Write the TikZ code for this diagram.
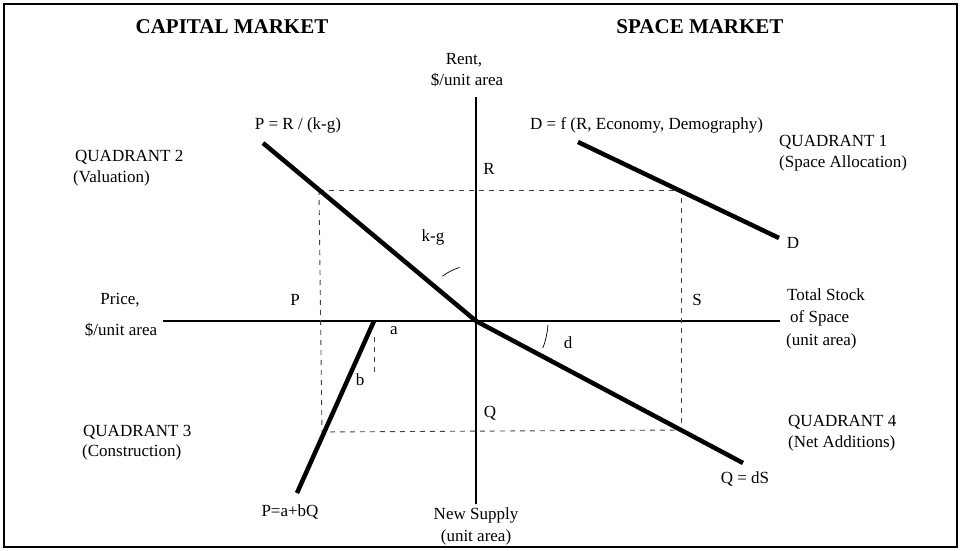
\documentclass[tikz,border=0pt]{standalone}
\usepackage{fontspec}
\setmainfont{Liberation Serif}
\begin{document}
\begin{tikzpicture}[x=1pt,y=-1pt,
  lbl/.style={inner sep=0pt,font=\fontsize{17}{20}\selectfont},
  ttl/.style={inner sep=0pt,font=\fontsize{21}{24}\selectfont\bfseries},
  axis/.style={line width=2pt,black},
  curve/.style={line width=4.5pt,black},
  guide/.style={line width=0.9pt,black!75,dash pattern=on 5pt off 5pt},
  anglemark/.style={line width=0.7pt,black}]
\useasboundingbox (0,0) rectangle (961,551);
\draw[line width=1.5pt] (4,4) rectangle (957,547);
% axes
\coordinate (O) at (476,321);
\coordinate (Vtop) at (476,97);
\coordinate (Vbot) at (476,504);
\coordinate (Hl) at (163,321);
\coordinate (Hr) at (780,321);
\draw[axis] (Vtop) -- (Vbot);
\draw[axis] (Hl) -- (Hr);
% curves
\coordinate (q2s) at (263,143);
\coordinate (q1s) at (578,142);
\coordinate (q1e) at (779,238);
\coordinate (q4e) at (743,463);
\coordinate (q3s) at (374,321);
\coordinate (q3e) at (297,493);
% dashed rectangle corners
\coordinate (c2) at (319,190);
\coordinate (c1) at (681,190);
\coordinate (c4) at (681,430);
\coordinate (c3) at (322,432);
\draw[guide] (c2) -- (c1) -- (c4);
\draw[guide] (c2) -- (c3) -- (c4);
\coordinate (bt) at (374,337);
\coordinate (bb) at (374,372);
\draw[guide] (bt) -- (bb);
\draw[curve] (q2s) -- (O);
\draw[curve] (q1s) -- (q1e);
\draw[curve] (O) -- (q4e);
\draw[curve] (q3s) -- (q3e);
% angle marks (y axis points down, so angles are mirrored)
\draw[anglemark] ([shift={(-127:56)}]O) arc[start angle=-127,end angle=-107,radius=56];
\draw[anglemark] ([shift={(3:72)}]O) arc[start angle=3,end angle=22,radius=72];
% titles
\node[ttl] (tcap) at (232,27) {CAPITAL MARKET};
\node[ttl] (tspa) at (700,27) {SPACE MARKET};
% axis labels
\node[lbl] (rent1) at (464,60) {Rent,};
\node[lbl] (rent2) at (467,80) {\$/unit area};
\node[lbl] (pr1) at (120,300) {Price,};
\node[lbl] (pr2) at (121,330) {\$/unit area};
\node[lbl,anchor=west] (ts1) at (787,295) {Total Stock};
\node[lbl,anchor=west] (ts2) at (790,318) {of Space};
\node[lbl,anchor=west] (ts3) at (786,341) {(unit area)};
\node[lbl] (ns1) at (476,515) {New Supply};
\node[lbl] (ns2) at (476,537) {(unit area)};
% quadrant labels
\node[lbl,anchor=west] (q2a) at (75,157) {QUADRANT 2};
\node[lbl,anchor=west] (q2b) at (73,178) {(Valuation)};
\node[lbl,anchor=west] (q1a) at (779,142) {QUADRANT 1};
\node[lbl,anchor=west] (q1b) at (779,163) {(Space Allocation)};
\node[lbl,anchor=west] (q3a) at (83,432) {QUADRANT 3};
\node[lbl,anchor=west] (q3b) at (82,452) {(Construction)};
\node[lbl,anchor=west] (q4a) at (788,422) {QUADRANT 4};
\node[lbl,anchor=west] (q4b) at (788,443) {(Net Additions)};
% equations
\node[lbl] (eqP) at (298,125) {P = R / (k-g)};
\node[lbl,anchor=west] (eqD) at (530,125) {D = f (R, Economy, Demography)};
\node[lbl] (eqQ) at (745,479) {Q = dS};
\node[lbl] (eqC) at (290,512) {P=a+bQ};
% point labels
\node[lbl] (lR) at (489,169) {R};
\node[lbl] (lP) at (295,300) {P};
\node[lbl] (lS) at (697,300) {S};
\node[lbl] (lQ) at (490,413) {Q};
\node[lbl] (lD) at (793,243) {D};
\node[lbl] (lkg) at (433,237) {k-g};
\node[lbl] (la) at (394,331) {a};
\node[lbl] (lb) at (360,380) {b};
\node[lbl] (ld) at (568,343) {d};
\end{tikzpicture}
\end{document}
